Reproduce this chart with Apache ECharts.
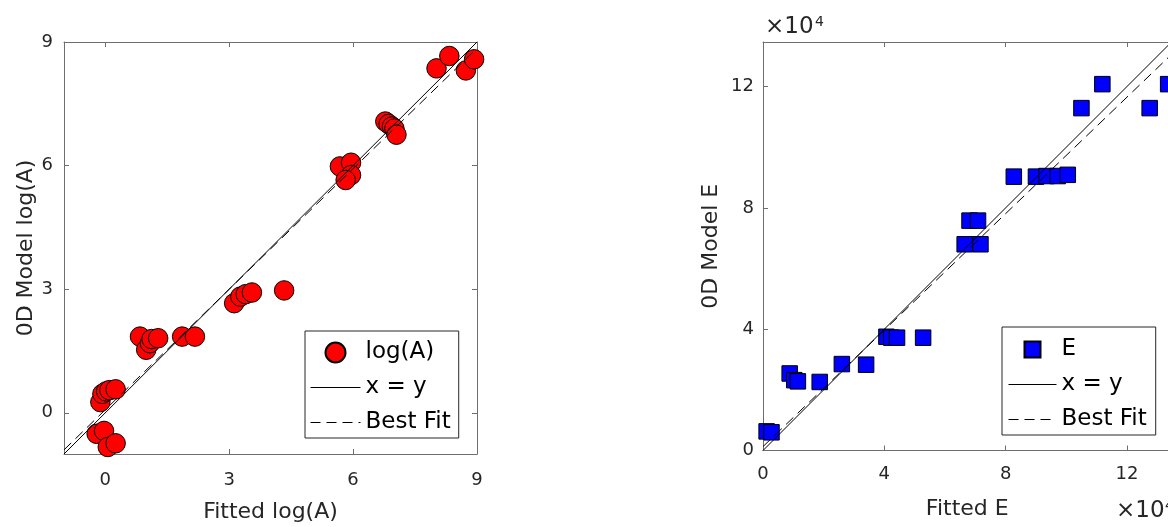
<!DOCTYPE html>
<html>
<head>
<meta charset="utf-8">
<script src="https://cdn.jsdelivr.net/npm/echarts@6/dist/echarts.min.js"></script>
<style>
  html, body { margin: 0; padding: 0; background: #fff; }
  #chart { width: 1168px; height: 527px; }
</style>
</head>
<body>
<div id="chart"></div>
<script>
// left panel: log(A)
const logAFitted = [-0.21, -0.03, 0.06, 0.25, -0.12, -0.07, 0.02, 0.1, 0.25,
  0.84, 0.99, 1.08, 1.12, 1.28, 1.86, 2.17, 3.12, 3.27, 3.4, 3.55, 4.33,
  5.68, 5.95, 5.95, 5.82, 6.78, 6.86, 6.94, 7.0, 7.05, 8.02, 8.33, 8.73, 8.93]
const logAModel = [-0.51, -0.44, -0.83, -0.74, 0.26, 0.46, 0.52, 0.55, 0.57,
  1.85, 1.53, 1.69, 1.79, 1.81, 1.85, 1.85, 2.66, 2.82, 2.88, 2.92, 2.97,
  5.98, 6.07, 5.77, 5.65, 7.07, 7.01, 6.95, 6.9, 6.75, 8.36, 8.66, 8.31, 8.58]

// right panel: E
const eFitted = [1200, 2800, 8800, 10300, 11500, 18700, 26000, 34000, 40700, 42300,
  44200, 52800, 66500, 71700, 68100, 70900, 82700, 90000, 93500, 97200, 100500,
  105000, 111900, 127500, 133600]
const eModel = [6300, 6000, 25400, 23200, 22800, 22600, 28500, 28300, 37500, 37200,
  37200, 37200, 68000, 68000, 75800, 75800, 90300, 90300, 90500, 90500, 90900,
  112900, 120800, 112900, 120800]

const leftRange = [-1, 9]
const rightRange = [0, 134700]
const leftTicks = [0, 3, 6, 9]
const rightTicks = [0, 40000, 80000, 120000]

// best fit lines (slope, intercept)
const leftFit = [0.975, 0.075]
const rightFit = [0.96, 1300]

const FONT = 'DejaVu Sans'
const AX = '#6e6e6e'
const TXT = '#262626'
const DASH = [10, 6]

const pairs = (xs, ys) => xs.map((x, i) => [x, ys[i]])
const fitLine = (range, fit) => range.map(x => [x, fit[0] * x + fit[1]])

const makeAxis = (gridIndex, position, range, ticks, o) => ({
  type: 'value',
  gridIndex,
  position,
  min: range[0],
  max: range[1],
  name: o.name || '',
  nameLocation: 'middle',
  nameGap: o.nameGap || 0,
  nameTextStyle: { fontFamily: FONT, fontSize: 22, color: TXT },
  axisLine: { show: true, onZero: false, lineStyle: { color: AX, width: 1 } },
  axisTick: { show: o.ticks !== false, inside: true, length: 5, customValues: ticks, lineStyle: { color: AX } },
  axisLabel: {
    show: !!o.label,
    customValues: ticks,
    margin: o.margin || 8,
    fontFamily: FONT,
    fontSize: 18,
    color: TXT,
    formatter: o.fmt
  },
  splitLine: { show: false }
})

// legend entries for the two reference lines: line only, no marker
const hideMarker = { color: 'rgba(0,0,0,0)', borderColor: 'rgba(0,0,0,0)', borderWidth: 0 }
const lineEntries = [
  { name: 'x = y', itemStyle: hideMarker },
  { name: 'Best Fit', itemStyle: hideMarker }
]

const legendBase = {
  orient: 'vertical',
  itemGap: 12,
  borderColor: '#262626',
  borderWidth: 1,
  backgroundColor: '#fff',
  selectedMode: false,
  lineStyle: { width: 1 },
  textStyle: { fontFamily: FONT, fontSize: 23, color: '#000' }
}

const chart = echarts.init(document.getElementById('chart'))

chart.setOption({
  animation: false,
  backgroundColor: '#fff',
  grid: [
    { left: 64, top: 42, width: 413, height: 412, outerBoundsMode: 'none' },
    { left: 763, top: 42, width: 408.5, height: 408.5, outerBoundsMode: 'none' }
  ],
  xAxis: [
    makeAxis(0, 'bottom', leftRange, leftTicks, { label: true, margin: 17, name: 'Fitted log(A)', nameGap: 47 }),
    makeAxis(0, 'top', leftRange, leftTicks, {}),
    makeAxis(1, 'bottom', rightRange, rightTicks, { label: true, margin: 15, name: 'Fitted E', nameGap: 48, fmt: v => v / 10000 }),
    makeAxis(1, 'top', rightRange, rightTicks, {})
  ],
  yAxis: [
    makeAxis(0, 'left', leftRange, leftTicks, { label: true, margin: 11, name: '0D Model log(A)', nameGap: 27 }),
    makeAxis(0, 'right', leftRange, leftTicks, {}),
    makeAxis(1, 'left', rightRange, rightTicks, { label: true, margin: 9, name: '0D Model E', nameGap: 41, fmt: v => v / 10000 }),
    makeAxis(1, 'right', rightRange, rightTicks, { ticks: false })
  ],
  legend: [
    Object.assign({}, legendBase, {
      data: [{ name: 'log(A)', icon: 'circle' }].concat(lineEntries),
      left: 305,
      top: 331,
      itemWidth: 50,
      itemHeight: 20,
      padding: [10, 8, 4, 5]
    }),
    Object.assign({}, legendBase, {
      data: [{ name: 'E', icon: 'path://M0,0h10v10h-10z' }].concat(lineEntries),
      left: 1002,
      top: 327,
      itemWidth: 48,
      itemHeight: 16,
      symbolKeepAspect: true,
      padding: [11, 9, 4, 6]
    })
  ],
  graphic: [
    { type: 'text', x: 765, y: 27.5, style: { text: '×10', font: '23px "DejaVu Sans"', fill: TXT, verticalAlign: 'middle' } },
    { type: 'text', x: 815, y: 22.5, style: { text: '4', font: '14px "DejaVu Sans"', fill: TXT, verticalAlign: 'middle' } },
    { type: 'text', x: 1116, y: 511, style: { text: '×10', font: '23px "DejaVu Sans"', fill: TXT, verticalAlign: 'middle' } },
    { type: 'text', x: 1165, y: 506, style: { text: '4', font: '14px "DejaVu Sans"', fill: TXT, verticalAlign: 'middle' } }
  ],
  series: [
    {
      name: 'log(A)',
      type: 'scatter',
      xAxisIndex: 0,
      yAxisIndex: 0,
      data: pairs(logAFitted, logAModel),
      symbol: 'circle',
      symbolSize: 19.5,
      clip: false,
      itemStyle: { color: '#ff0000', borderColor: '#000', borderWidth: 1, opacity: 1 }
    },
    {
      name: 'x = y',
      type: 'line',
      xAxisIndex: 0,
      yAxisIndex: 0,
      data: leftRange.map(v => [v, v]),
      symbol: 'none',
      lineStyle: { color: '#000', width: 1 },
      itemStyle: { color: '#000' }
    },
    {
      name: 'Best Fit',
      type: 'line',
      xAxisIndex: 0,
      yAxisIndex: 0,
      data: fitLine(leftRange, leftFit),
      symbol: 'none',
      lineStyle: { color: '#000', width: 1, type: DASH },
      itemStyle: { color: '#000' }
    },
    {
      name: 'E',
      type: 'scatter',
      xAxisIndex: 2,
      yAxisIndex: 2,
      data: pairs(eFitted, eModel),
      symbol: 'rect',
      symbolSize: 15.5,
      clip: false,
      itemStyle: { color: '#0000ff', borderColor: '#000', borderWidth: 1, opacity: 1 }
    },
    {
      name: 'x = y',
      type: 'line',
      xAxisIndex: 2,
      yAxisIndex: 2,
      data: rightRange.map(v => [v, v]),
      symbol: 'none',
      lineStyle: { color: '#000', width: 1 },
      itemStyle: { color: '#000' }
    },
    {
      name: 'Best Fit',
      type: 'line',
      xAxisIndex: 2,
      yAxisIndex: 2,
      data: fitLine(rightRange, rightFit),
      symbol: 'none',
      lineStyle: { color: '#000', width: 1, type: DASH },
      itemStyle: { color: '#000' }
    }
  ]
})
</script>
</body>
</html>
